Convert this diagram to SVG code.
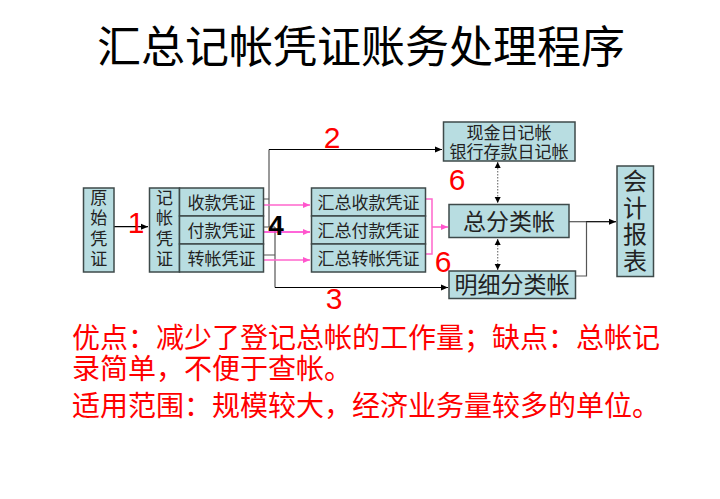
<svg xmlns="http://www.w3.org/2000/svg" width="720" height="499" viewBox="0 0 720 499">
<defs>
<marker id="ab" markerWidth="8" markerHeight="8" refX="7" refY="4" orient="auto" markerUnits="userSpaceOnUse"><path d="M0,1 L7,4 L0,7 Z" fill="#000"/></marker>
<marker id="ap" markerWidth="8" markerHeight="8" refX="7" refY="4" orient="auto" markerUnits="userSpaceOnUse"><path d="M0,1 L7,4 L0,7 Z" fill="#ff55cc"/></marker>
<marker id="ad" markerWidth="8" markerHeight="8" refX="6" refY="3.5" orient="auto-start-reverse" markerUnits="userSpaceOnUse"><path d="M0,0.5 L6,3.5 L0,6.5 Z" fill="#000"/></marker>
<style>
.box{fill:#b8dde1;stroke:#3e4a4a;stroke-width:1.5}
.t{font-family:"Noto Sans CJK SC","Noto Sans",sans-serif;fill:#222;text-anchor:middle}
.tl{font-family:"Liberation Sans","Noto Sans CJK SC",sans-serif;fill:#222;text-anchor:middle}
.v{writing-mode:vertical-rl}
.s17{font-size:17px}
.s23{font-size:23px}
.ln{fill:none;stroke:#000;stroke-width:1.2}
.gl{fill:none;stroke:#555;stroke-width:1.2}
.pk{fill:none;stroke:#ff66cc;stroke-width:1.5}
.dt{fill:none;stroke:#777;stroke-width:1.2;stroke-dasharray:1.5,1.5}
.num{font-family:"Liberation Sans",Arial,sans-serif;font-size:30px;fill:#ff0000;text-anchor:middle}
.red{font-family:"Liberation Sans","Noto Sans CJK SC",sans-serif;font-size:28px;fill:#ff0000}
</style>
</defs>
<rect width="720" height="499" fill="#fff"/>
<text x="361" y="63" class="t" style="font-size:44px;fill:#000">汇总记帐凭证账务处理程序</text>

<g id="connectors">
<path class="ln" d="M114,226.7 H148" marker-end="url(#ab)"/>
<path class="gl" d="M263,199 H269 M263,227 H275 M263,255 H275"/>
<path class="gl" d="M269,227 V149.5"/>
<path class="ln" d="M269,149.5 H442" marker-end="url(#ab)"/>
<path class="gl" d="M275,227 V287.5"/>
<path class="ln" d="M275,287.5 H448" marker-end="url(#ab)"/>
<path class="pk" d="M264,205 H310" marker-end="url(#ap)"/>
<path class="pk" d="M264,232 H310" marker-end="url(#ap)" style="stroke:#ff33cc"/>
<path class="pk" d="M264,260 H310" marker-end="url(#ap)"/>
<path class="pk" d="M426,199 H432 V254 H426"/>
<path class="pk" d="M432,227 H448" marker-end="url(#ap)"/>
<path class="dt" d="M497.7,162 V203" marker-start="url(#ad)" marker-end="url(#ad)"/>
<path class="dt" d="M497.7,239 V270" marker-start="url(#ad)" marker-end="url(#ad)"/>
<path class="gl" d="M569,221.7 H586"/>
<path class="ln" d="M586,221.7 H616" marker-end="url(#ab)"/>
<path class="gl" d="M576,276 H586.5 V221.7"/>
</g>

<g id="yuanshi">
<rect class="box" x="83.5" y="188" width="30.5" height="84"/>
<text class="t v s17" x="98.8" y="230" letter-spacing="3.5">原始凭证</text>
</g>

<g id="jizhang">
<rect class="box" x="149.5" y="188" width="30" height="84"/>
<text class="t v s17" x="164.5" y="230" letter-spacing="3.5">记帐凭证</text>
<rect class="box" x="179.5" y="188" width="84" height="28"/>
<rect class="box" x="179.5" y="216" width="84" height="28"/>
<rect class="box" x="179.5" y="244" width="84" height="28"/>
<text class="t s17" x="221.5" y="208.5">收款凭证</text>
<text class="t s17" x="221.5" y="236.5">付款凭证</text>
<text class="t s17" x="221.5" y="264.5">转帐凭证</text>
</g>

<g id="huizong">
<rect class="box" x="311.5" y="188" width="114" height="28"/>
<rect class="box" x="311.5" y="216" width="114" height="28"/>
<rect class="box" x="311.5" y="244" width="114" height="28"/>
<text class="t s17" x="368.5" y="208.5">汇总收款凭证</text>
<text class="t s17" x="368.5" y="236.5">汇总付款凭证</text>
<text class="t s17" x="368.5" y="264.5">汇总转帐凭证</text>
</g>

<g id="rijizhang">
<rect class="box" x="443.5" y="122" width="131.5" height="39"/>
<text class="tl s17" x="509" y="138.5">现金日记帐</text>
<text class="tl s17" x="509" y="158">银行存款日记帐</text>
</g>

<g id="zongfenlei">
<rect class="box" x="449" y="204.5" width="120" height="33"/>
<text class="t s23" x="509" y="229.5">总分类帐</text>
</g>

<g id="mingxi">
<rect class="box" x="449" y="271" width="126.5" height="27.5"/>
<text class="t s23" x="512" y="293">明细分类帐</text>
</g>

<g id="baobiao">
<rect class="box" x="617" y="166" width="36.5" height="110.5"/>
<text class="t v" x="635" y="222" style="font-size:24px" letter-spacing="2.5">会计报表</text>
</g>

<g id="labels">
<text class="num" x="136" y="233">1</text>
<text class="num" x="332" y="148">2</text>
<text class="num" x="334" y="309">3</text>
<text class="num" x="276" y="235" style="fill:#000;font-weight:bold;font-size:28px">4</text>
<text class="num" x="457" y="190">6</text>
<text class="num" x="443" y="272">6</text>
</g>

<g id="notes">
<text class="red" x="72" y="347.5">优点：减少了登记总帐的工作量；缺点：总帐记</text>
<text class="red" x="72" y="379">录简单，不便于查帐。</text>
<text class="red" x="72" y="416">适用范围：规模较大，经济业务量较多的单位。</text>
</g>
</svg>
